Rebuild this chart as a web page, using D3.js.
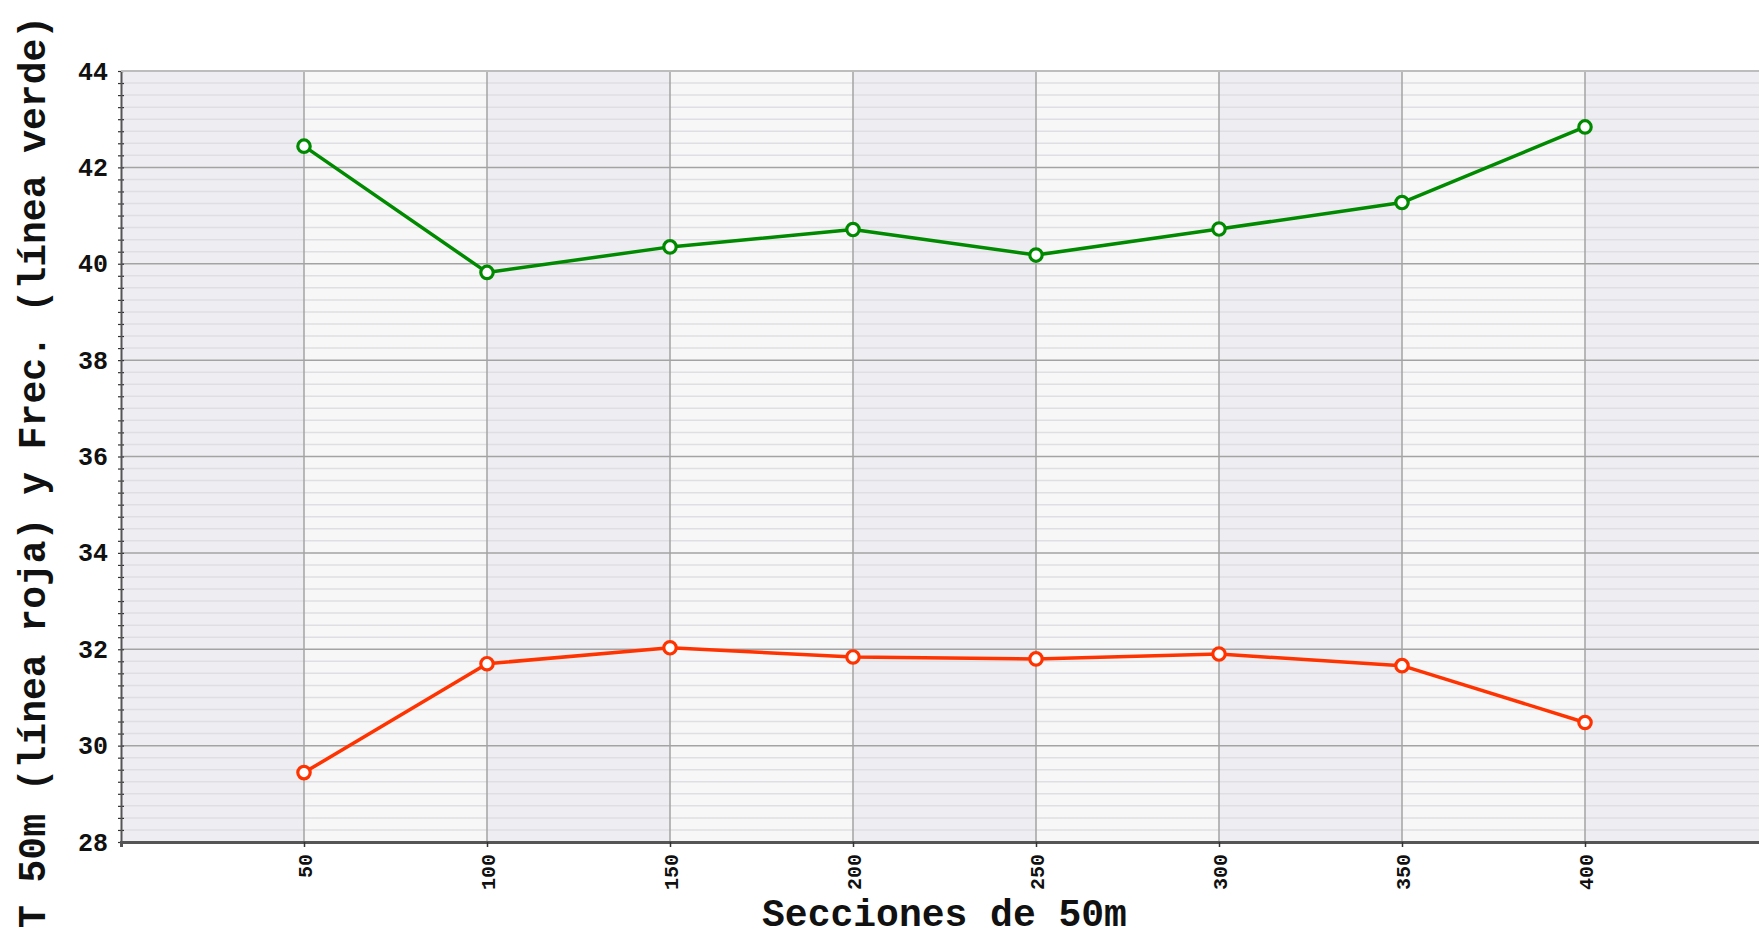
<!DOCTYPE html>
<html>
<head>
<meta charset="utf-8">
<script src="https://cdn.jsdelivr.net/npm/d3@7"></script>
<style>
  html, body { margin: 0; padding: 0; background: #ffffff; overflow: hidden; }
  svg { display: block; }
  text { font-family: "Liberation Mono", "DejaVu Sans Mono", monospace; font-weight: bold; fill: #111; }
</style>
</head>
<body>
<script>
// ---- data ----
const sections = [50, 100, 150, 200, 250, 300, 350, 400];
const tiempo = [29.44, 31.70, 32.03, 31.84, 31.80, 31.90, 31.66, 30.48]; // línea roja
const frecuencia = [42.44, 39.82, 40.35, 40.71, 40.18, 40.72, 41.27, 42.84]; // línea verde
const xTicks = [50, 100, 150, 200, 250, 300, 350, 400];
const yTicks = [28, 30, 32, 34, 36, 38, 40, 42, 44];
const xTitle = "Secciones de 50m";
const yTitle = "T 50m (línea roja) y Frec. (línea verde)";

(function () {
const W = 1759, H = 940;
const mLeft = 121, mRight = 1768, mTop = 71, mBottom = 842;

const svg = d3.select("body").append("svg").attr("width", W).attr("height", H);

const x = d3.scaleLinear().domain([0, 450]).range([mLeft, mRight]);
const y = d3.scaleLinear().domain([28, 44]).range([mBottom, mTop]);

// bands
const bandEdges = d3.range(0, 450, 50);
svg.append("g").selectAll("rect").data(bandEdges).join("rect")
  .attr("x", d => x(d)).attr("y", mTop)
  .attr("width", d => x(d + 50) - x(d)).attr("height", mBottom - mTop)
  .attr("fill", (d, i) => i % 2 === 0 ? "#eeeef2" : "#f7f7f7");

// minor horizontal gridlines
const minor = d3.range(28, 44.001, 0.25).filter(v => Math.abs(v / 2 - Math.round(v / 2)) > 1e-6);
svg.append("g").selectAll("line").data(minor).join("line")
  .attr("x1", mLeft).attr("x2", mRight)
  .attr("y1", d => y(d)).attr("y2", d => y(d))
  .attr("stroke", "#dfdfe3").attr("stroke-width", 1.5);

// major horizontal gridlines
svg.append("g").selectAll("line").data(yTicks.slice(1)).join("line")
  .attr("x1", mLeft).attr("x2", mRight)
  .attr("y1", d => y(d)).attr("y2", d => y(d))
  .attr("stroke", d => d === 44 ? "#bdbdbd" : "#a3a3a3").attr("stroke-width", 1.5);

// vertical gridlines
svg.append("g").selectAll("line").data(xTicks).join("line")
  .attr("x1", d => x(d)).attr("x2", d => x(d))
  .attr("y1", mTop).attr("y2", mBottom)
  .attr("stroke", "#a3a3a3").attr("stroke-width", 1.5);

// y axis
const yAxisMinor = d3.axisLeft(y).tickValues(d3.range(28, 44.001, 0.25)).tickSize(6).tickFormat("");
svg.append("g").attr("transform", `translate(${mLeft + 3},0)`).call(yAxisMinor)
  .call(g => g.select(".domain").remove())
  .call(g => g.selectAll("line").attr("stroke", "#333").attr("stroke-width", 1.2));
const yAxis = d3.axisLeft(y).tickValues(yTicks).tickSize(0).tickPadding(13).tickFormat(d3.format("d"));
svg.append("g").attr("transform", `translate(${mLeft},0)`).call(yAxis)
  .call(g => g.select(".domain").attr("stroke", "#555").attr("stroke-width", 2))
  .call(g => g.selectAll("text").style("font-size", "25px").attr("fill", "#111"));

// x axis
const xAxis = d3.axisBottom(x).tickValues(xTicks).tickSize(5).tickFormat(d3.format("d"));
const gx = svg.append("g").attr("transform", `translate(0,${mBottom})`).call(xAxis);
gx.select(".domain").attr("stroke", "#555").attr("stroke-width", 3);
gx.selectAll("line").attr("stroke", "#333").attr("stroke-width", 1.5);
gx.selectAll("text")
  .style("font-size", "20px").attr("fill", "#111")
  .attr("transform", "rotate(-90)")
  .attr("text-anchor", "end")
  .attr("x", -12).attr("y", 0).attr("dy", "0.35em");

// top border
svg.append("line").attr("x1", mLeft).attr("x2", mRight).attr("y1", mTop).attr("y2", mTop)
  .attr("stroke", "#bdbdbd").attr("stroke-width", 2);

// lines
const line = d3.line().x((d, i) => x(sections[i])).y(d => y(d));
function drawSeries(vals, color) {
  svg.append("path").datum(vals).attr("d", line)
    .attr("fill", "none").attr("stroke", color).attr("stroke-width", 3.5)
    .attr("stroke-linejoin", "round");
  svg.append("g").selectAll("circle").data(vals).join("circle")
    .attr("cx", (d, i) => x(sections[i])).attr("cy", d => y(d))
    .attr("r", 6.2).attr("fill", "#fff").attr("stroke", color).attr("stroke-width", 3.2);
}
drawSeries(frecuencia, "#008a00");
drawSeries(tiempo, "#ff3300");

// titles
svg.append("text").attr("x", (mLeft + mRight) / 2).attr("y", 926)
  .attr("text-anchor", "middle").style("font-size", "38px").text(xTitle);
svg.append("text").attr("transform", `translate(45,${472}) rotate(-90)`)
  .attr("text-anchor", "middle").style("font-size", "38px").text(yTitle);
})();
</script>
</body>
</html>
